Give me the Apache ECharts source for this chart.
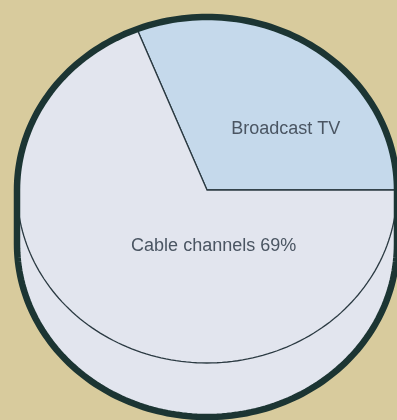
<!DOCTYPE html>
<html>
<head>
<meta charset="utf-8">
<script src="https://cdn.jsdelivr.net/npm/echarts@6/dist/echarts.min.js"></script>
<style>
  html, body { margin: 0; padding: 0; background: #d8cb9d; }
  #chart { width: 397px; height: 420px; }
</style>
</head>
<body>
<div id="chart"></div>
<script>
// Share of viewing, in percent
const categories = ['Broadcast TV', 'Cable channels'];
const shares = [31, 69];
const labelTexts = ['Broadcast TV', 'Cable channels 69%'];

// Styling / layout (unit-disc coordinates: the grid maps [-1, 1] onto the disc face)
const sliceColors = ['#c5d9eb', '#e2e5ee'];
const labelAnchors = [[0.415, 0.355], [0.035, -0.325]];
const discDepth = 0.312;          // height of the disc side, in unit y
const outlineColor = '#1c3533';
const edgeColor = '#2b3a42';

const total = shares.reduce((a, b) => a + b, 0);
let run = 0;
const sliceData = shares.map((v, i) => {
  const start = run / total;
  run += v;
  return { name: categories[i], value: [start, run / total, i] };
});

function arc(api, a0, a1, dy, n) {
  const pts = [];
  for (let k = 0; k <= n; k++) {
    const a = a0 + (a1 - a0) * k / n;
    pts.push(api.coord([Math.cos(a), Math.sin(a) + dy]));
  }
  return pts;
}

// Outline of the whole disc: top rim, right side, bottom rim, left side
function discOutline(api) {
  return arc(api, Math.PI, 0, 0, 120)
    .concat(arc(api, 0, -Math.PI, -discDepth, 120));
}

const chart = echarts.init(document.getElementById('chart'), null, { renderer: 'canvas' });

chart.setOption({
  backgroundColor: '#d8cb9d',
  animation: false,
  grid: { left: 17, top: 17, width: 382, height: 346 },
  xAxis: { type: 'value', min: -1, max: 1, show: false },
  yAxis: { type: 'value', min: -1, max: 1, show: false },
  series: [
    {
      // disc body (side wall)
      type: 'custom',
      silent: true,
      z: 1,
      data: [[0]],
      renderItem: (params, api) => ({
        type: 'polygon',
        shape: { points: discOutline(api) },
        style: { fill: sliceColors[1], stroke: 'none' }
      })
    },
    {
      // top face slices
      type: 'custom',
      silent: true,
      z: 2,
      data: sliceData,
      renderItem: (params, api) => {
        const s = api.value(0) * Math.PI * 2;
        const e = api.value(1) * Math.PI * 2;
        const i = api.value(2);
        const pts = [api.coord([0, 0])].concat(arc(api, s, e, 0, 160));
        return {
          type: 'polygon',
          shape: { points: pts },
          style: { fill: sliceColors[i], stroke: edgeColor, lineWidth: 1.3, lineJoin: 'miter' }
        };
      }
    },
    {
      // heavy outer rim
      type: 'custom',
      silent: true,
      z: 3,
      data: [[0]],
      renderItem: (params, api) => ({
        type: 'polygon',
        shape: { points: discOutline(api) },
        style: { fill: 'none', stroke: outlineColor, lineWidth: 6.5 }
      })
    },
    {
      // slice labels
      type: 'custom',
      silent: true,
      z: 4,
      data: sliceData,
      renderItem: (params, api) => {
        const i = api.value(2);
        const p = api.coord(labelAnchors[i]);
        return {
          type: 'text',
          x: p[0],
          y: p[1],
          style: {
            text: labelTexts[i],
            fill: '#4a5562',
            fontFamily: 'Liberation Sans, Arial, sans-serif',
            fontSize: 18,
            align: 'center',
            verticalAlign: 'middle'
          }
        };
      }
    }
  ]
});
</script>
</body>
</html>
